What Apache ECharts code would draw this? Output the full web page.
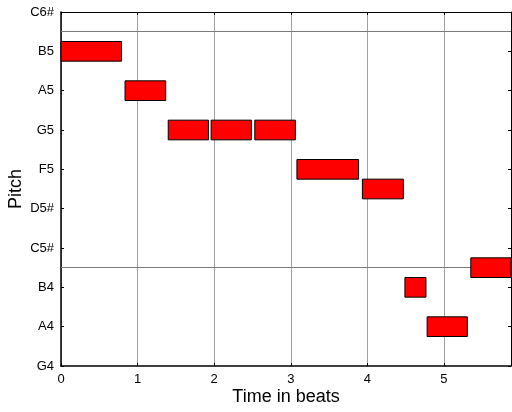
<!DOCTYPE html>
<html>
<head>
<meta charset="utf-8">
<script src="https://cdn.jsdelivr.net/npm/echarts@6/dist/echarts.min.js"></script>
<style>html,body{margin:0;padding:0;background:#fff}#c{width:512px;height:412px}</style>
</head>
<body>
<div id="c"></div>
<script>
// Tick labels for pitch axis (MIDI 67..85 step 2)
const pitchLabels = ['G4','A4','B4','C5#','D5#','F5','G5','A5','B5','C6#'];
const pitchMin = 67;
const pitchMax = 85;
// Notes (start beat, end beat, MIDI pitch)
const noteStarts  = [0,    0.836, 1.40,  1.96,  2.53, 3.08,  3.935, 4.49,  4.78,  5.35];
const noteEnds    = [0.79, 1.367, 1.925, 2.486, 3.06, 3.885, 4.47,  4.765, 5.305, 6.0];
const notePitches = [83,   81,    79,    79,    79,   77,    76,    71,    69,    72];
// Octave marker lines (C5, C6)
const octaveLines = [72, 84];
const beatMax = 5.875;

const font = 'Liberation Sans, Arial, sans-serif';
const noteData = noteStarts.map((s, i) => [s, noteEnds[i], notePitches[i]]);

const chart = echarts.init(document.getElementById('c'), null, {renderer: 'canvas'});
chart.setOption({
  animation: false,
  backgroundColor: '#fff',
  grid: {left: 61, right: 1, top: 12, bottom: 46, containLabel: false, outerBoundsMode: 'none'},
  xAxis: [{
    type: 'value', min: 0, max: beatMax, interval: 1, position: 'bottom',
    name: 'Time in beats', nameLocation: 'middle', nameGap: 22, nameMoveOverlap: false,
    nameTextStyle: {fontFamily: font, fontSize: 18, color: '#000'},
    axisLine: {show: true, onZero: false, lineStyle: {color: '#000', width: 1.5}},
    axisTick: {show: true, inside: true, length: 3, lineStyle: {color: '#000'}},
    axisLabel: {fontFamily: font, fontSize: 13, color: '#000', margin: 7, showMaxLabel: false},
    splitLine: {show: true, lineStyle: {color: '#a0a0a0', width: 1}}
  }, {
    type: 'value', min: 0, max: beatMax, interval: 1, position: 'top',
    axisLine: {show: true, onZero: false, lineStyle: {color: '#000', width: 1}},
    axisTick: {show: true, inside: true, length: 3, lineStyle: {color: '#000'}},
    axisLabel: {show: false}, splitLine: {show: false}
  }],
  yAxis: [{
    type: 'value', min: pitchMin, max: pitchMax, interval: 2, position: 'left',
    name: 'Pitch', nameLocation: 'middle', nameGap: 36, nameRotate: 90, nameMoveOverlap: false,
    nameTextStyle: {fontFamily: font, fontSize: 18, color: '#000'},
    axisLine: {show: true, onZero: false, lineStyle: {color: '#000', width: 1.5}},
    axisTick: {show: true, inside: true, length: 3, lineStyle: {color: '#000'}},
    axisLabel: {fontFamily: font, fontSize: 13, color: '#000', margin: 7,
      formatter: v => pitchLabels[Math.round((v - pitchMin) / 2)] || ''},
    splitLine: {show: false}
  }, {
    type: 'value', min: pitchMin, max: pitchMax, interval: 2, position: 'right',
    axisLine: {show: true, onZero: false, lineStyle: {color: '#000', width: 1}},
    axisTick: {show: true, inside: true, length: 3, lineStyle: {color: '#000'}},
    axisLabel: {show: false}, splitLine: {show: false}
  }],
  series: [{
    type: 'line', data: [], z: 1, silent: true,
    markLine: {
      silent: true, symbol: 'none', animation: false, z: 1,
      label: {show: false},
      lineStyle: {color: '#7a7a7a', width: 1, type: 'solid'},
      data: octaveLines.map(p => ({yAxis: p}))
    }
  }, {
    type: 'custom', z: 3,
    data: noteData,
    encode: {x: [0, 1], y: 2},
    renderItem: function (params, api) {
      const p = api.value(2);
      const a = api.coord([api.value(0), p + 0.5]);
      const b = api.coord([api.value(1), p - 0.5]);
      const cs = params.coordSys;
      const r = echarts.graphic.clipRectByRect(
        {x: a[0], y: a[1], width: b[0] - a[0], height: b[1] - a[1]},
        {x: cs.x, y: cs.y, width: cs.width, height: cs.height});
      return r && {type: 'rect', shape: r, style: {fill: '#ff0000', stroke: '#000', lineWidth: 1}};
    }
  }]
});
</script>
</body>
</html>
